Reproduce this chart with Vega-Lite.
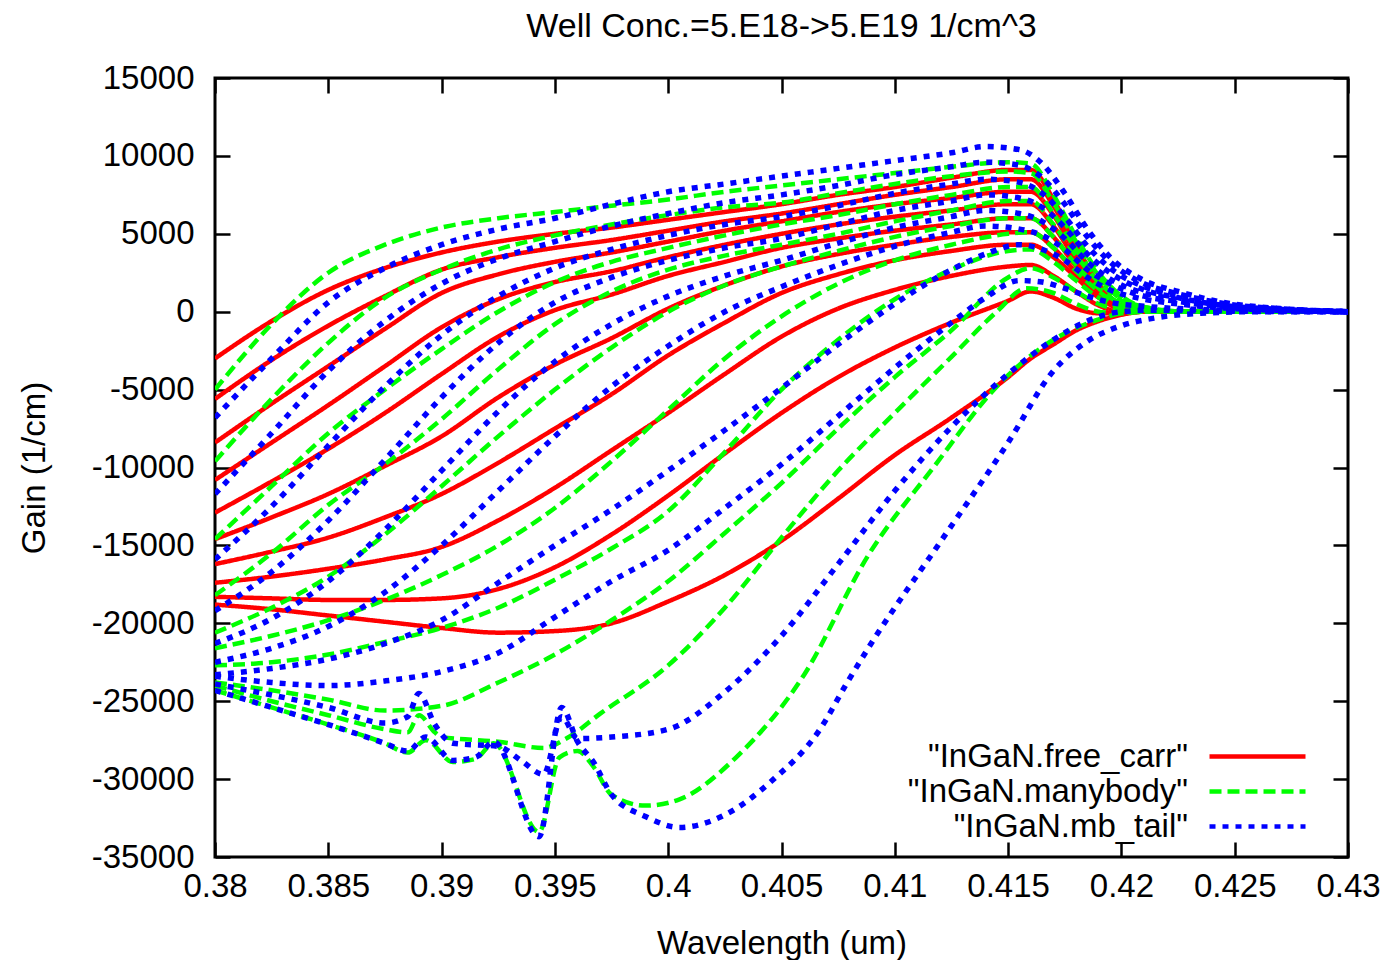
{
"$schema":"https://vega.github.io/schema/vega-lite/v6.json",
"width":1133,"height":779,"autosize":"none",
"padding":{"left":215,"top":78,"right":42,"bottom":103},
"background":"white",
"title":{"text":"Well Conc.=5.E18->5.E19 1/cm^3","fontSize":34,"font":"Liberation Sans","fontWeight":"normal","color":"#000","offset":18,"anchor":"middle"},
"config":{"view":{"stroke":"#000","strokeWidth":3},"font":"Liberation Sans",
"axis":{"grid":false,"domain":false,"tickColor":"#000","tickWidth":2.5,"labelColor":"#000","titleColor":"#000","labelFont":"Liberation Sans","titleFont":"Liberation Sans","labelFontSize":33,"titleFontSize":33,"titleFontWeight":"normal","labelOverlap":false,"labelFlush":false},
"legend":{"labelFont":"Liberation Sans","labelFontSize":33,"labelColor":"#000","padding":0}},
"datasets":{"gain":[
{"set":"R","n":1,"wl":0.38,"gain":-18800},{"set":"R","n":1,"wl":0.3825,"gain":-19100},{"set":"R","n":1,"wl":0.385,"gain":-19500},{"set":"R","n":1,"wl":0.3875,"gain":-19900},{"set":"R","n":1,"wl":0.39,"gain":-20300},{"set":"R","n":1,"wl":0.3925,"gain":-20600},{"set":"R","n":1,"wl":0.395,"gain":-20500},{"set":"R","n":1,"wl":0.3975,"gain":-20000},{"set":"R","n":1,"wl":0.4,"gain":-18600},{"set":"R","n":1,"wl":0.4025,"gain":-16900},{"set":"R","n":1,"wl":0.405,"gain":-14700},{"set":"R","n":1,"wl":0.4075,"gain":-12000},{"set":"R","n":1,"wl":0.41,"gain":-9200},{"set":"R","n":1,"wl":0.4125,"gain":-6800},{"set":"R","n":1,"wl":0.415,"gain":-4200},{"set":"R","n":1,"wl":0.416,"gain":-3000},{"set":"R","n":1,"wl":0.417,"gain":-2100},{"set":"R","n":1,"wl":0.418,"gain":-1200},{"set":"R","n":1,"wl":0.419,"gain":-600},{"set":"R","n":1,"wl":0.42,"gain":-200},{"set":"R","n":1,"wl":0.421,"gain":0},{"set":"R","n":1,"wl":0.423,"gain":0},{"set":"R","n":1,"wl":0.43,"gain":0},
{"set":"R","n":2,"wl":0.38,"gain":-18300},{"set":"R","n":2,"wl":0.3825,"gain":-18400},{"set":"R","n":2,"wl":0.385,"gain":-18500},{"set":"R","n":2,"wl":0.3875,"gain":-18500},{"set":"R","n":2,"wl":0.39,"gain":-18400},{"set":"R","n":2,"wl":0.3925,"gain":-17800},{"set":"R","n":2,"wl":0.395,"gain":-16400},{"set":"R","n":2,"wl":0.3975,"gain":-14300},{"set":"R","n":2,"wl":0.4,"gain":-11800},{"set":"R","n":2,"wl":0.4025,"gain":-9100},{"set":"R","n":2,"wl":0.405,"gain":-6500},{"set":"R","n":2,"wl":0.4075,"gain":-4200},{"set":"R","n":2,"wl":0.41,"gain":-2300},{"set":"R","n":2,"wl":0.4125,"gain":-700},{"set":"R","n":2,"wl":0.415,"gain":700},{"set":"R","n":2,"wl":0.416,"gain":1300},{"set":"R","n":2,"wl":0.417,"gain":900},{"set":"R","n":2,"wl":0.418,"gain":200},{"set":"R","n":2,"wl":0.419,"gain":-100},{"set":"R","n":2,"wl":0.42,"gain":-100},{"set":"R","n":2,"wl":0.421,"gain":0},{"set":"R","n":2,"wl":0.423,"gain":0},{"set":"R","n":2,"wl":0.43,"gain":0},
{"set":"R","n":3,"wl":0.38,"gain":-17400},{"set":"R","n":3,"wl":0.3825,"gain":-17000},{"set":"R","n":3,"wl":0.385,"gain":-16500},{"set":"R","n":3,"wl":0.3875,"gain":-15900},{"set":"R","n":3,"wl":0.39,"gain":-15100},{"set":"R","n":3,"wl":0.3925,"gain":-13400},{"set":"R","n":3,"wl":0.395,"gain":-11300},{"set":"R","n":3,"wl":0.3975,"gain":-8900},{"set":"R","n":3,"wl":0.4,"gain":-6500},{"set":"R","n":3,"wl":0.4025,"gain":-4000},{"set":"R","n":3,"wl":0.405,"gain":-1600},{"set":"R","n":3,"wl":0.4075,"gain":200},{"set":"R","n":3,"wl":0.41,"gain":1400},{"set":"R","n":3,"wl":0.4125,"gain":2300},{"set":"R","n":3,"wl":0.415,"gain":2900},{"set":"R","n":3,"wl":0.416,"gain":3000},{"set":"R","n":3,"wl":0.417,"gain":2300},{"set":"R","n":3,"wl":0.418,"gain":1300},{"set":"R","n":3,"wl":0.419,"gain":400},{"set":"R","n":3,"wl":0.42,"gain":0},{"set":"R","n":3,"wl":0.421,"gain":0},{"set":"R","n":3,"wl":0.423,"gain":0},{"set":"R","n":3,"wl":0.43,"gain":0},
{"set":"R","n":4,"wl":0.38,"gain":-16200},{"set":"R","n":4,"wl":0.3825,"gain":-15400},{"set":"R","n":4,"wl":0.385,"gain":-14500},{"set":"R","n":4,"wl":0.3875,"gain":-13200},{"set":"R","n":4,"wl":0.39,"gain":-11700},{"set":"R","n":4,"wl":0.3925,"gain":-9700},{"set":"R","n":4,"wl":0.395,"gain":-7500},{"set":"R","n":4,"wl":0.3975,"gain":-5300},{"set":"R","n":4,"wl":0.4,"gain":-2800},{"set":"R","n":4,"wl":0.4025,"gain":-700},{"set":"R","n":4,"wl":0.405,"gain":1200},{"set":"R","n":4,"wl":0.4075,"gain":2400},{"set":"R","n":4,"wl":0.41,"gain":3300},{"set":"R","n":4,"wl":0.4125,"gain":3900},{"set":"R","n":4,"wl":0.415,"gain":4300},{"set":"R","n":4,"wl":0.416,"gain":4300},{"set":"R","n":4,"wl":0.417,"gain":3500},{"set":"R","n":4,"wl":0.418,"gain":2200},{"set":"R","n":4,"wl":0.419,"gain":900},{"set":"R","n":4,"wl":0.42,"gain":150},{"set":"R","n":4,"wl":0.421,"gain":0},{"set":"R","n":4,"wl":0.423,"gain":0},{"set":"R","n":4,"wl":0.43,"gain":0},
{"set":"R","n":5,"wl":0.38,"gain":-14600},{"set":"R","n":5,"wl":0.3825,"gain":-13200},{"set":"R","n":5,"wl":0.385,"gain":-11700},{"set":"R","n":5,"wl":0.3875,"gain":-9900},{"set":"R","n":5,"wl":0.39,"gain":-8000},{"set":"R","n":5,"wl":0.3925,"gain":-5500},{"set":"R","n":5,"wl":0.395,"gain":-3400},{"set":"R","n":5,"wl":0.3975,"gain":-1700},{"set":"R","n":5,"wl":0.4,"gain":200},{"set":"R","n":5,"wl":0.4025,"gain":1700},{"set":"R","n":5,"wl":0.405,"gain":2900},{"set":"R","n":5,"wl":0.4075,"gain":3700},{"set":"R","n":5,"wl":0.41,"gain":4300},{"set":"R","n":5,"wl":0.4125,"gain":4800},{"set":"R","n":5,"wl":0.415,"gain":5100},{"set":"R","n":5,"wl":0.416,"gain":5100},{"set":"R","n":5,"wl":0.417,"gain":4100},{"set":"R","n":5,"wl":0.418,"gain":2500},{"set":"R","n":5,"wl":0.419,"gain":1000},{"set":"R","n":5,"wl":0.42,"gain":200},{"set":"R","n":5,"wl":0.421,"gain":0},{"set":"R","n":5,"wl":0.423,"gain":0},{"set":"R","n":5,"wl":0.43,"gain":0},
{"set":"R","n":6,"wl":0.38,"gain":-12900},{"set":"R","n":6,"wl":0.3825,"gain":-10900},{"set":"R","n":6,"wl":0.385,"gain":-8800},{"set":"R","n":6,"wl":0.3875,"gain":-6500},{"set":"R","n":6,"wl":0.39,"gain":-4000},{"set":"R","n":6,"wl":0.3925,"gain":-1600},{"set":"R","n":6,"wl":0.395,"gain":100},{"set":"R","n":6,"wl":0.3975,"gain":1100},{"set":"R","n":6,"wl":0.4,"gain":2300},{"set":"R","n":6,"wl":0.4025,"gain":3200},{"set":"R","n":6,"wl":0.405,"gain":4100},{"set":"R","n":6,"wl":0.4075,"gain":4700},{"set":"R","n":6,"wl":0.41,"gain":5200},{"set":"R","n":6,"wl":0.4125,"gain":5600},{"set":"R","n":6,"wl":0.415,"gain":6000},{"set":"R","n":6,"wl":0.416,"gain":6000},{"set":"R","n":6,"wl":0.417,"gain":4800},{"set":"R","n":6,"wl":0.418,"gain":2900},{"set":"R","n":6,"wl":0.419,"gain":1200},{"set":"R","n":6,"wl":0.42,"gain":250},{"set":"R","n":6,"wl":0.421,"gain":50},{"set":"R","n":6,"wl":0.423,"gain":0},{"set":"R","n":6,"wl":0.43,"gain":0},
{"set":"R","n":7,"wl":0.38,"gain":-10800},{"set":"R","n":7,"wl":0.3825,"gain":-8400},{"set":"R","n":7,"wl":0.385,"gain":-6000},{"set":"R","n":7,"wl":0.3875,"gain":-3500},{"set":"R","n":7,"wl":0.39,"gain":-1000},{"set":"R","n":7,"wl":0.3925,"gain":800},{"set":"R","n":7,"wl":0.395,"gain":1900},{"set":"R","n":7,"wl":0.3975,"gain":2600},{"set":"R","n":7,"wl":0.4,"gain":3500},{"set":"R","n":7,"wl":0.4025,"gain":4300},{"set":"R","n":7,"wl":0.405,"gain":5000},{"set":"R","n":7,"wl":0.4075,"gain":5600},{"set":"R","n":7,"wl":0.41,"gain":6100},{"set":"R","n":7,"wl":0.4125,"gain":6500},{"set":"R","n":7,"wl":0.415,"gain":6900},{"set":"R","n":7,"wl":0.416,"gain":6900},{"set":"R","n":7,"wl":0.417,"gain":5500},{"set":"R","n":7,"wl":0.418,"gain":3300},{"set":"R","n":7,"wl":0.419,"gain":1400},{"set":"R","n":7,"wl":0.42,"gain":300},{"set":"R","n":7,"wl":0.421,"gain":100},{"set":"R","n":7,"wl":0.423,"gain":0},{"set":"R","n":7,"wl":0.43,"gain":0},
{"set":"R","n":8,"wl":0.38,"gain":-8400},{"set":"R","n":8,"wl":0.3825,"gain":-5900},{"set":"R","n":8,"wl":0.385,"gain":-3500},{"set":"R","n":8,"wl":0.3875,"gain":-1100},{"set":"R","n":8,"wl":0.39,"gain":1200},{"set":"R","n":8,"wl":0.3925,"gain":2400},{"set":"R","n":8,"wl":0.395,"gain":3200},{"set":"R","n":8,"wl":0.3975,"gain":3800},{"set":"R","n":8,"wl":0.4,"gain":4500},{"set":"R","n":8,"wl":0.4025,"gain":5200},{"set":"R","n":8,"wl":0.405,"gain":5800},{"set":"R","n":8,"wl":0.4075,"gain":6400},{"set":"R","n":8,"wl":0.41,"gain":6900},{"set":"R","n":8,"wl":0.4125,"gain":7300},{"set":"R","n":8,"wl":0.415,"gain":7700},{"set":"R","n":8,"wl":0.416,"gain":7700},{"set":"R","n":8,"wl":0.417,"gain":6200},{"set":"R","n":8,"wl":0.418,"gain":3700},{"set":"R","n":8,"wl":0.419,"gain":1500},{"set":"R","n":8,"wl":0.42,"gain":300},{"set":"R","n":8,"wl":0.421,"gain":100},{"set":"R","n":8,"wl":0.423,"gain":0},{"set":"R","n":8,"wl":0.43,"gain":0},
{"set":"R","n":9,"wl":0.38,"gain":-5600},{"set":"R","n":9,"wl":0.3825,"gain":-3100},{"set":"R","n":9,"wl":0.385,"gain":-900},{"set":"R","n":9,"wl":0.3875,"gain":1000},{"set":"R","n":9,"wl":0.39,"gain":2700},{"set":"R","n":9,"wl":0.3925,"gain":3500},{"set":"R","n":9,"wl":0.395,"gain":4100},{"set":"R","n":9,"wl":0.3975,"gain":4600},{"set":"R","n":9,"wl":0.4,"gain":5200},{"set":"R","n":9,"wl":0.4025,"gain":5800},{"set":"R","n":9,"wl":0.405,"gain":6300},{"set":"R","n":9,"wl":0.4075,"gain":6900},{"set":"R","n":9,"wl":0.41,"gain":7500},{"set":"R","n":9,"wl":0.4125,"gain":8000},{"set":"R","n":9,"wl":0.415,"gain":8500},{"set":"R","n":9,"wl":0.416,"gain":8500},{"set":"R","n":9,"wl":0.417,"gain":6800},{"set":"R","n":9,"wl":0.418,"gain":4000},{"set":"R","n":9,"wl":0.419,"gain":1700},{"set":"R","n":9,"wl":0.42,"gain":400},{"set":"R","n":9,"wl":0.421,"gain":100},{"set":"R","n":9,"wl":0.423,"gain":0},{"set":"R","n":9,"wl":0.43,"gain":0},
{"set":"R","n":10,"wl":0.38,"gain":-3000},{"set":"R","n":10,"wl":0.3825,"gain":-600},{"set":"R","n":10,"wl":0.385,"gain":1400},{"set":"R","n":10,"wl":0.3875,"gain":2800},{"set":"R","n":10,"wl":0.39,"gain":3800},{"set":"R","n":10,"wl":0.3925,"gain":4500},{"set":"R","n":10,"wl":0.395,"gain":5000},{"set":"R","n":10,"wl":0.3975,"gain":5400},{"set":"R","n":10,"wl":0.4,"gain":5900},{"set":"R","n":10,"wl":0.4025,"gain":6400},{"set":"R","n":10,"wl":0.405,"gain":6900},{"set":"R","n":10,"wl":0.4075,"gain":7500},{"set":"R","n":10,"wl":0.41,"gain":8000},{"set":"R","n":10,"wl":0.4125,"gain":8600},{"set":"R","n":10,"wl":0.415,"gain":9100},{"set":"R","n":10,"wl":0.416,"gain":9100},{"set":"R","n":10,"wl":0.417,"gain":7200},{"set":"R","n":10,"wl":0.418,"gain":4300},{"set":"R","n":10,"wl":0.419,"gain":1800},{"set":"R","n":10,"wl":0.42,"gain":400},{"set":"R","n":10,"wl":0.421,"gain":100},{"set":"R","n":10,"wl":0.423,"gain":0},{"set":"R","n":10,"wl":0.43,"gain":0},
{"set":"G","n":1,"wl":0.38,"gain":-24300},{"set":"G","n":1,"wl":0.3825,"gain":-25400},{"set":"G","n":1,"wl":0.385,"gain":-26500},{"set":"G","n":1,"wl":0.3875,"gain":-27700},{"set":"G","n":1,"wl":0.3885,"gain":-28300},{"set":"G","n":1,"wl":0.3893,"gain":-27500},{"set":"G","n":1,"wl":0.3905,"gain":-28900},{"set":"G","n":1,"wl":0.3915,"gain":-28700},{"set":"G","n":1,"wl":0.3923,"gain":-27700},{"set":"G","n":1,"wl":0.3943,"gain":-33400},{"set":"G","n":1,"wl":0.3952,"gain":-28600},{"set":"G","n":1,"wl":0.396,"gain":-28200},{"set":"G","n":1,"wl":0.3967,"gain":-29200},{"set":"G","n":1,"wl":0.3975,"gain":-31000},{"set":"G","n":1,"wl":0.399,"gain":-31700},{"set":"G","n":1,"wl":0.4005,"gain":-31300},{"set":"G","n":1,"wl":0.403,"gain":-28600},{"set":"G","n":1,"wl":0.406,"gain":-23300},{"set":"G","n":1,"wl":0.4088,"gain":-15700},{"set":"G","n":1,"wl":0.4117,"gain":-10000},{"set":"G","n":1,"wl":0.4147,"gain":-4500},{"set":"G","n":1,"wl":0.417,"gain":-1800},{"set":"G","n":1,"wl":0.419,"gain":-500},{"set":"G","n":1,"wl":0.42,"gain":-100},{"set":"G","n":1,"wl":0.421,"gain":0},{"set":"G","n":1,"wl":0.43,"gain":0},
{"set":"G","n":2,"wl":0.38,"gain":-24000},{"set":"G","n":2,"wl":0.3825,"gain":-25000},{"set":"G","n":2,"wl":0.385,"gain":-25900},{"set":"G","n":2,"wl":0.3875,"gain":-26800},{"set":"G","n":2,"wl":0.3885,"gain":-27000},{"set":"G","n":2,"wl":0.389,"gain":-25900},{"set":"G","n":2,"wl":0.3897,"gain":-27000},{"set":"G","n":2,"wl":0.39,"gain":-27300},{"set":"G","n":2,"wl":0.3925,"gain":-27600},{"set":"G","n":2,"wl":0.3945,"gain":-28000},{"set":"G","n":2,"wl":0.3955,"gain":-27400},{"set":"G","n":2,"wl":0.397,"gain":-25800},{"set":"G","n":2,"wl":0.4,"gain":-22700},{"set":"G","n":2,"wl":0.4025,"gain":-19000},{"set":"G","n":2,"wl":0.405,"gain":-14500},{"set":"G","n":2,"wl":0.4075,"gain":-10200},{"set":"G","n":2,"wl":0.41,"gain":-6500},{"set":"G","n":2,"wl":0.4125,"gain":-2900},{"set":"G","n":2,"wl":0.4145,"gain":0},{"set":"G","n":2,"wl":0.4158,"gain":1500},{"set":"G","n":2,"wl":0.417,"gain":1200},{"set":"G","n":2,"wl":0.418,"gain":500},{"set":"G","n":2,"wl":0.419,"gain":0},{"set":"G","n":2,"wl":0.42,"gain":-100},{"set":"G","n":2,"wl":0.421,"gain":0},{"set":"G","n":2,"wl":0.43,"gain":0},
{"set":"G","n":3,"wl":0.38,"gain":-23800},{"set":"G","n":3,"wl":0.3825,"gain":-24300},{"set":"G","n":3,"wl":0.385,"gain":-24900},{"set":"G","n":3,"wl":0.3875,"gain":-25600},{"set":"G","n":3,"wl":0.39,"gain":-25300},{"set":"G","n":3,"wl":0.3925,"gain":-23800},{"set":"G","n":3,"wl":0.395,"gain":-22000},{"set":"G","n":3,"wl":0.3975,"gain":-19800},{"set":"G","n":3,"wl":0.4,"gain":-17300},{"set":"G","n":3,"wl":0.4025,"gain":-14200},{"set":"G","n":3,"wl":0.405,"gain":-11000},{"set":"G","n":3,"wl":0.4075,"gain":-7500},{"set":"G","n":3,"wl":0.41,"gain":-4200},{"set":"G","n":3,"wl":0.4125,"gain":-1200},{"set":"G","n":3,"wl":0.415,"gain":2200},{"set":"G","n":3,"wl":0.416,"gain":2800},{"set":"G","n":3,"wl":0.417,"gain":2200},{"set":"G","n":3,"wl":0.418,"gain":1300},{"set":"G","n":3,"wl":0.419,"gain":500},{"set":"G","n":3,"wl":0.42,"gain":100},{"set":"G","n":3,"wl":0.421,"gain":0},{"set":"G","n":3,"wl":0.423,"gain":0},{"set":"G","n":3,"wl":0.43,"gain":0},
{"set":"G","n":4,"wl":0.38,"gain":-22700},{"set":"G","n":4,"wl":0.3825,"gain":-22500},{"set":"G","n":4,"wl":0.385,"gain":-22000},{"set":"G","n":4,"wl":0.3875,"gain":-21200},{"set":"G","n":4,"wl":0.39,"gain":-20300},{"set":"G","n":4,"wl":0.3925,"gain":-19000},{"set":"G","n":4,"wl":0.395,"gain":-17200},{"set":"G","n":4,"wl":0.3975,"gain":-15200},{"set":"G","n":4,"wl":0.4,"gain":-12800},{"set":"G","n":4,"wl":0.4025,"gain":-9000},{"set":"G","n":4,"wl":0.405,"gain":-5000},{"set":"G","n":4,"wl":0.4075,"gain":-1800},{"set":"G","n":4,"wl":0.41,"gain":800},{"set":"G","n":4,"wl":0.4125,"gain":2700},{"set":"G","n":4,"wl":0.415,"gain":3900},{"set":"G","n":4,"wl":0.416,"gain":4000},{"set":"G","n":4,"wl":0.417,"gain":3200},{"set":"G","n":4,"wl":0.418,"gain":2000},{"set":"G","n":4,"wl":0.419,"gain":900},{"set":"G","n":4,"wl":0.42,"gain":300},{"set":"G","n":4,"wl":0.421,"gain":0},{"set":"G","n":4,"wl":0.423,"gain":0},{"set":"G","n":4,"wl":0.43,"gain":0},
{"set":"G","n":5,"wl":0.38,"gain":-21600},{"set":"G","n":5,"wl":0.3825,"gain":-20800},{"set":"G","n":5,"wl":0.385,"gain":-19800},{"set":"G","n":5,"wl":0.3875,"gain":-18500},{"set":"G","n":5,"wl":0.39,"gain":-16900},{"set":"G","n":5,"wl":0.3925,"gain":-15000},{"set":"G","n":5,"wl":0.395,"gain":-12600},{"set":"G","n":5,"wl":0.3975,"gain":-9600},{"set":"G","n":5,"wl":0.4,"gain":-6300},{"set":"G","n":5,"wl":0.4025,"gain":-3000},{"set":"G","n":5,"wl":0.405,"gain":-300},{"set":"G","n":5,"wl":0.4075,"gain":1800},{"set":"G","n":5,"wl":0.41,"gain":3300},{"set":"G","n":5,"wl":0.4125,"gain":4300},{"set":"G","n":5,"wl":0.415,"gain":5000},{"set":"G","n":5,"wl":0.416,"gain":5100},{"set":"G","n":5,"wl":0.417,"gain":4100},{"set":"G","n":5,"wl":0.418,"gain":2600},{"set":"G","n":5,"wl":0.419,"gain":1300},{"set":"G","n":5,"wl":0.42,"gain":400},{"set":"G","n":5,"wl":0.421,"gain":100},{"set":"G","n":5,"wl":0.423,"gain":0},{"set":"G","n":5,"wl":0.43,"gain":0},
{"set":"G","n":6,"wl":0.38,"gain":-20600},{"set":"G","n":6,"wl":0.3825,"gain":-19000},{"set":"G","n":6,"wl":0.385,"gain":-17000},{"set":"G","n":6,"wl":0.3875,"gain":-14300},{"set":"G","n":6,"wl":0.39,"gain":-11200},{"set":"G","n":6,"wl":0.3925,"gain":-8000},{"set":"G","n":6,"wl":0.395,"gain":-5000},{"set":"G","n":6,"wl":0.3975,"gain":-2300},{"set":"G","n":6,"wl":0.4,"gain":0},{"set":"G","n":6,"wl":0.4025,"gain":1700},{"set":"G","n":6,"wl":0.405,"gain":2900},{"set":"G","n":6,"wl":0.4075,"gain":3900},{"set":"G","n":6,"wl":0.41,"gain":4800},{"set":"G","n":6,"wl":0.4125,"gain":5500},{"set":"G","n":6,"wl":0.415,"gain":6000},{"set":"G","n":6,"wl":0.416,"gain":6000},{"set":"G","n":6,"wl":0.417,"gain":4800},{"set":"G","n":6,"wl":0.418,"gain":3000},{"set":"G","n":6,"wl":0.419,"gain":1500},{"set":"G","n":6,"wl":0.42,"gain":500},{"set":"G","n":6,"wl":0.421,"gain":100},{"set":"G","n":6,"wl":0.423,"gain":0},{"set":"G","n":6,"wl":0.43,"gain":0},
{"set":"G","n":7,"wl":0.38,"gain":-18200},{"set":"G","n":7,"wl":0.3825,"gain":-15500},{"set":"G","n":7,"wl":0.385,"gain":-12400},{"set":"G","n":7,"wl":0.3875,"gain":-9800},{"set":"G","n":7,"wl":0.39,"gain":-6900},{"set":"G","n":7,"wl":0.3925,"gain":-3700},{"set":"G","n":7,"wl":0.395,"gain":-800},{"set":"G","n":7,"wl":0.3975,"gain":1300},{"set":"G","n":7,"wl":0.4,"gain":2700},{"set":"G","n":7,"wl":0.4025,"gain":3600},{"set":"G","n":7,"wl":0.405,"gain":4300},{"set":"G","n":7,"wl":0.4075,"gain":5000},{"set":"G","n":7,"wl":0.41,"gain":5800},{"set":"G","n":7,"wl":0.4125,"gain":6500},{"set":"G","n":7,"wl":0.415,"gain":7100},{"set":"G","n":7,"wl":0.416,"gain":7100},{"set":"G","n":7,"wl":0.417,"gain":5600},{"set":"G","n":7,"wl":0.418,"gain":3600},{"set":"G","n":7,"wl":0.419,"gain":1900},{"set":"G","n":7,"wl":0.42,"gain":700},{"set":"G","n":7,"wl":0.421,"gain":200},{"set":"G","n":7,"wl":0.423,"gain":0},{"set":"G","n":7,"wl":0.43,"gain":0},
{"set":"G","n":8,"wl":0.38,"gain":-14600},{"set":"G","n":8,"wl":0.3825,"gain":-11200},{"set":"G","n":8,"wl":0.385,"gain":-7800},{"set":"G","n":8,"wl":0.3875,"gain":-5000},{"set":"G","n":8,"wl":0.39,"gain":-2400},{"set":"G","n":8,"wl":0.3925,"gain":0},{"set":"G","n":8,"wl":0.395,"gain":1900},{"set":"G","n":8,"wl":0.3975,"gain":3200},{"set":"G","n":8,"wl":0.4,"gain":4100},{"set":"G","n":8,"wl":0.4025,"gain":4900},{"set":"G","n":8,"wl":0.405,"gain":5600},{"set":"G","n":8,"wl":0.4075,"gain":6200},{"set":"G","n":8,"wl":0.41,"gain":6900},{"set":"G","n":8,"wl":0.4125,"gain":7500},{"set":"G","n":8,"wl":0.415,"gain":8000},{"set":"G","n":8,"wl":0.416,"gain":8000},{"set":"G","n":8,"wl":0.417,"gain":6300},{"set":"G","n":8,"wl":0.418,"gain":4000},{"set":"G","n":8,"wl":0.419,"gain":2100},{"set":"G","n":8,"wl":0.42,"gain":800},{"set":"G","n":8,"wl":0.421,"gain":200},{"set":"G","n":8,"wl":0.423,"gain":0},{"set":"G","n":8,"wl":0.43,"gain":0},
{"set":"G","n":9,"wl":0.38,"gain":-9600},{"set":"G","n":9,"wl":0.3825,"gain":-5600},{"set":"G","n":9,"wl":0.385,"gain":-2000},{"set":"G","n":9,"wl":0.3875,"gain":900},{"set":"G","n":9,"wl":0.39,"gain":2700},{"set":"G","n":9,"wl":0.3925,"gain":4000},{"set":"G","n":9,"wl":0.395,"gain":4900},{"set":"G","n":9,"wl":0.3975,"gain":5600},{"set":"G","n":9,"wl":0.4,"gain":6200},{"set":"G","n":9,"wl":0.4025,"gain":6700},{"set":"G","n":9,"wl":0.405,"gain":7000},{"set":"G","n":9,"wl":0.4075,"gain":7600},{"set":"G","n":9,"wl":0.41,"gain":8200},{"set":"G","n":9,"wl":0.4125,"gain":8700},{"set":"G","n":9,"wl":0.415,"gain":9000},{"set":"G","n":9,"wl":0.416,"gain":8900},{"set":"G","n":9,"wl":0.417,"gain":7000},{"set":"G","n":9,"wl":0.418,"gain":4500},{"set":"G","n":9,"wl":0.419,"gain":2300},{"set":"G","n":9,"wl":0.42,"gain":900},{"set":"G","n":9,"wl":0.421,"gain":300},{"set":"G","n":9,"wl":0.423,"gain":0},{"set":"G","n":9,"wl":0.43,"gain":0},
{"set":"G","n":10,"wl":0.38,"gain":-5000},{"set":"G","n":10,"wl":0.3825,"gain":-800},{"set":"G","n":10,"wl":0.385,"gain":2500},{"set":"G","n":10,"wl":0.3875,"gain":4300},{"set":"G","n":10,"wl":0.39,"gain":5400},{"set":"G","n":10,"wl":0.3925,"gain":6000},{"set":"G","n":10,"wl":0.395,"gain":6400},{"set":"G","n":10,"wl":0.3975,"gain":6800},{"set":"G","n":10,"wl":0.4,"gain":7200},{"set":"G","n":10,"wl":0.4025,"gain":7700},{"set":"G","n":10,"wl":0.405,"gain":8100},{"set":"G","n":10,"wl":0.4075,"gain":8500},{"set":"G","n":10,"wl":0.41,"gain":8900},{"set":"G","n":10,"wl":0.4125,"gain":9300},{"set":"G","n":10,"wl":0.415,"gain":9600},{"set":"G","n":10,"wl":0.416,"gain":9500},{"set":"G","n":10,"wl":0.417,"gain":7500},{"set":"G","n":10,"wl":0.418,"gain":4800},{"set":"G","n":10,"wl":0.419,"gain":2500},{"set":"G","n":10,"wl":0.42,"gain":1000},{"set":"G","n":10,"wl":0.421,"gain":300},{"set":"G","n":10,"wl":0.423,"gain":0},{"set":"G","n":10,"wl":0.43,"gain":0},
{"set":"B","n":1,"wl":0.38,"gain":-24300},{"set":"B","n":1,"wl":0.3825,"gain":-25400},{"set":"B","n":1,"wl":0.385,"gain":-26500},{"set":"B","n":1,"wl":0.3875,"gain":-27700},{"set":"B","n":1,"wl":0.3885,"gain":-28200},{"set":"B","n":1,"wl":0.3893,"gain":-27300},{"set":"B","n":1,"wl":0.3905,"gain":-28800},{"set":"B","n":1,"wl":0.3915,"gain":-28600},{"set":"B","n":1,"wl":0.3923,"gain":-27600},{"set":"B","n":1,"wl":0.3943,"gain":-33700},{"set":"B","n":1,"wl":0.3953,"gain":-25400},{"set":"B","n":1,"wl":0.396,"gain":-27600},{"set":"B","n":1,"wl":0.3967,"gain":-28900},{"set":"B","n":1,"wl":0.3975,"gain":-31000},{"set":"B","n":1,"wl":0.399,"gain":-32400},{"set":"B","n":1,"wl":0.4005,"gain":-33100},{"set":"B","n":1,"wl":0.4025,"gain":-32300},{"set":"B","n":1,"wl":0.4045,"gain":-30200},{"set":"B","n":1,"wl":0.4067,"gain":-26800},{"set":"B","n":1,"wl":0.4079,"gain":-23800},{"set":"B","n":1,"wl":0.409,"gain":-21200},{"set":"B","n":1,"wl":0.412,"gain":-14800},{"set":"B","n":1,"wl":0.415,"gain":-8400},{"set":"B","n":1,"wl":0.417,"gain":-3800},{"set":"B","n":1,"wl":0.4185,"gain":-1900},{"set":"B","n":1,"wl":0.42,"gain":-900},{"set":"B","n":1,"wl":0.4215,"gain":-400},{"set":"B","n":1,"wl":0.4235,"gain":-100},{"set":"B","n":1,"wl":0.426,"gain":0},{"set":"B","n":1,"wl":0.43,"gain":0},
{"set":"B","n":2,"wl":0.38,"gain":-23900},{"set":"B","n":2,"wl":0.3825,"gain":-24600},{"set":"B","n":2,"wl":0.385,"gain":-25400},{"set":"B","n":2,"wl":0.3875,"gain":-26400},{"set":"B","n":2,"wl":0.3885,"gain":-26000},{"set":"B","n":2,"wl":0.389,"gain":-24500},{"set":"B","n":2,"wl":0.3897,"gain":-26500},{"set":"B","n":2,"wl":0.3905,"gain":-27700},{"set":"B","n":2,"wl":0.3925,"gain":-27900},{"set":"B","n":2,"wl":0.3935,"gain":-28800},{"set":"B","n":2,"wl":0.3945,"gain":-29700},{"set":"B","n":2,"wl":0.3953,"gain":-26000},{"set":"B","n":2,"wl":0.396,"gain":-27400},{"set":"B","n":2,"wl":0.3975,"gain":-27300},{"set":"B","n":2,"wl":0.4,"gain":-26800},{"set":"B","n":2,"wl":0.4025,"gain":-24400},{"set":"B","n":2,"wl":0.405,"gain":-20800},{"set":"B","n":2,"wl":0.4075,"gain":-16200},{"set":"B","n":2,"wl":0.41,"gain":-11500},{"set":"B","n":2,"wl":0.4125,"gain":-7400},{"set":"B","n":2,"wl":0.415,"gain":-4000},{"set":"B","n":2,"wl":0.417,"gain":-1800},{"set":"B","n":2,"wl":0.4185,"gain":-600},{"set":"B","n":2,"wl":0.42,"gain":0},{"set":"B","n":2,"wl":0.4215,"gain":100},{"set":"B","n":2,"wl":0.4235,"gain":50},{"set":"B","n":2,"wl":0.43,"gain":0},
{"set":"B","n":3,"wl":0.38,"gain":-23400},{"set":"B","n":3,"wl":0.3825,"gain":-23800},{"set":"B","n":3,"wl":0.385,"gain":-24000},{"set":"B","n":3,"wl":0.3875,"gain":-23700},{"set":"B","n":3,"wl":0.39,"gain":-23100},{"set":"B","n":3,"wl":0.3925,"gain":-21900},{"set":"B","n":3,"wl":0.395,"gain":-19600},{"set":"B","n":3,"wl":0.3975,"gain":-17300},{"set":"B","n":3,"wl":0.4,"gain":-15300},{"set":"B","n":3,"wl":0.4025,"gain":-12600},{"set":"B","n":3,"wl":0.405,"gain":-9800},{"set":"B","n":3,"wl":0.4075,"gain":-6700},{"set":"B","n":3,"wl":0.41,"gain":-3600},{"set":"B","n":3,"wl":0.4125,"gain":-700},{"set":"B","n":3,"wl":0.414,"gain":900},{"set":"B","n":3,"wl":0.4155,"gain":2000},{"set":"B","n":3,"wl":0.4165,"gain":1900},{"set":"B","n":3,"wl":0.4175,"gain":1500},{"set":"B","n":3,"wl":0.4185,"gain":1000},{"set":"B","n":3,"wl":0.4195,"gain":600},{"set":"B","n":3,"wl":0.421,"gain":350},{"set":"B","n":3,"wl":0.4225,"gain":200},{"set":"B","n":3,"wl":0.4245,"gain":100},{"set":"B","n":3,"wl":0.427,"gain":30},{"set":"B","n":3,"wl":0.43,"gain":0},
{"set":"B","n":4,"wl":0.38,"gain":-23300},{"set":"B","n":4,"wl":0.3825,"gain":-22900},{"set":"B","n":4,"wl":0.385,"gain":-22300},{"set":"B","n":4,"wl":0.3875,"gain":-21300},{"set":"B","n":4,"wl":0.39,"gain":-19800},{"set":"B","n":4,"wl":0.3925,"gain":-17400},{"set":"B","n":4,"wl":0.395,"gain":-15000},{"set":"B","n":4,"wl":0.3975,"gain":-12700},{"set":"B","n":4,"wl":0.4,"gain":-10200},{"set":"B","n":4,"wl":0.4025,"gain":-7600},{"set":"B","n":4,"wl":0.405,"gain":-4900},{"set":"B","n":4,"wl":0.4075,"gain":-2100},{"set":"B","n":4,"wl":0.41,"gain":500},{"set":"B","n":4,"wl":0.4125,"gain":2700},{"set":"B","n":4,"wl":0.414,"gain":3700},{"set":"B","n":4,"wl":0.4155,"gain":4300},{"set":"B","n":4,"wl":0.4165,"gain":4000},{"set":"B","n":4,"wl":0.4175,"gain":3300},{"set":"B","n":4,"wl":0.4185,"gain":2200},{"set":"B","n":4,"wl":0.4195,"gain":1400},{"set":"B","n":4,"wl":0.421,"gain":800},{"set":"B","n":4,"wl":0.4225,"gain":500},{"set":"B","n":4,"wl":0.4245,"gain":240},{"set":"B","n":4,"wl":0.427,"gain":90},{"set":"B","n":4,"wl":0.43,"gain":0},
{"set":"B","n":5,"wl":0.38,"gain":-22500},{"set":"B","n":5,"wl":0.3825,"gain":-21600},{"set":"B","n":5,"wl":0.385,"gain":-20200},{"set":"B","n":5,"wl":0.3875,"gain":-18000},{"set":"B","n":5,"wl":0.39,"gain":-15000},{"set":"B","n":5,"wl":0.3925,"gain":-11500},{"set":"B","n":5,"wl":0.395,"gain":-8000},{"set":"B","n":5,"wl":0.3975,"gain":-4800},{"set":"B","n":5,"wl":0.4,"gain":-2200},{"set":"B","n":5,"wl":0.4025,"gain":0},{"set":"B","n":5,"wl":0.405,"gain":1600},{"set":"B","n":5,"wl":0.4075,"gain":3000},{"set":"B","n":5,"wl":0.41,"gain":4200},{"set":"B","n":5,"wl":0.4125,"gain":5100},{"set":"B","n":5,"wl":0.414,"gain":5500},{"set":"B","n":5,"wl":0.4155,"gain":5300},{"set":"B","n":5,"wl":0.4165,"gain":4900},{"set":"B","n":5,"wl":0.4175,"gain":4000},{"set":"B","n":5,"wl":0.4185,"gain":2700},{"set":"B","n":5,"wl":0.4195,"gain":1800},{"set":"B","n":5,"wl":0.421,"gain":1000},{"set":"B","n":5,"wl":0.4225,"gain":660},{"set":"B","n":5,"wl":0.4245,"gain":300},{"set":"B","n":5,"wl":0.427,"gain":110},{"set":"B","n":5,"wl":0.43,"gain":0},
{"set":"B","n":6,"wl":0.38,"gain":-21300},{"set":"B","n":6,"wl":0.3825,"gain":-19700},{"set":"B","n":6,"wl":0.385,"gain":-17300},{"set":"B","n":6,"wl":0.3875,"gain":-14000},{"set":"B","n":6,"wl":0.39,"gain":-10200},{"set":"B","n":6,"wl":0.3925,"gain":-6400},{"set":"B","n":6,"wl":0.395,"gain":-3200},{"set":"B","n":6,"wl":0.3975,"gain":-800},{"set":"B","n":6,"wl":0.4,"gain":1000},{"set":"B","n":6,"wl":0.4025,"gain":2300},{"set":"B","n":6,"wl":0.405,"gain":3300},{"set":"B","n":6,"wl":0.4075,"gain":4400},{"set":"B","n":6,"wl":0.41,"gain":5400},{"set":"B","n":6,"wl":0.4125,"gain":6100},{"set":"B","n":6,"wl":0.414,"gain":6500},{"set":"B","n":6,"wl":0.4155,"gain":6300},{"set":"B","n":6,"wl":0.4165,"gain":5800},{"set":"B","n":6,"wl":0.4175,"gain":4700},{"set":"B","n":6,"wl":0.4185,"gain":3200},{"set":"B","n":6,"wl":0.4195,"gain":2100},{"set":"B","n":6,"wl":0.421,"gain":1200},{"set":"B","n":6,"wl":0.4225,"gain":780},{"set":"B","n":6,"wl":0.4245,"gain":360},{"set":"B","n":6,"wl":0.427,"gain":130},{"set":"B","n":6,"wl":0.43,"gain":0},
{"set":"B","n":7,"wl":0.38,"gain":-19200},{"set":"B","n":7,"wl":0.3825,"gain":-16700},{"set":"B","n":7,"wl":0.385,"gain":-13400},{"set":"B","n":7,"wl":0.3875,"gain":-9500},{"set":"B","n":7,"wl":0.39,"gain":-5500},{"set":"B","n":7,"wl":0.3925,"gain":-2000},{"set":"B","n":7,"wl":0.395,"gain":600},{"set":"B","n":7,"wl":0.3975,"gain":2200},{"set":"B","n":7,"wl":0.4,"gain":3300},{"set":"B","n":7,"wl":0.4025,"gain":4100},{"set":"B","n":7,"wl":0.405,"gain":4700},{"set":"B","n":7,"wl":0.4075,"gain":5600},{"set":"B","n":7,"wl":0.41,"gain":6500},{"set":"B","n":7,"wl":0.4125,"gain":7100},{"set":"B","n":7,"wl":0.414,"gain":7500},{"set":"B","n":7,"wl":0.4155,"gain":7300},{"set":"B","n":7,"wl":0.4165,"gain":6700},{"set":"B","n":7,"wl":0.4175,"gain":5400},{"set":"B","n":7,"wl":0.4185,"gain":3700},{"set":"B","n":7,"wl":0.4195,"gain":2500},{"set":"B","n":7,"wl":0.421,"gain":1400},{"set":"B","n":7,"wl":0.4225,"gain":900},{"set":"B","n":7,"wl":0.4245,"gain":400},{"set":"B","n":7,"wl":0.427,"gain":150},{"set":"B","n":7,"wl":0.43,"gain":0},
{"set":"B","n":8,"wl":0.38,"gain":-15900},{"set":"B","n":8,"wl":0.3825,"gain":-12500},{"set":"B","n":8,"wl":0.385,"gain":-8600},{"set":"B","n":8,"wl":0.3875,"gain":-4800},{"set":"B","n":8,"wl":0.39,"gain":-1500},{"set":"B","n":8,"wl":0.3925,"gain":1000},{"set":"B","n":8,"wl":0.395,"gain":2800},{"set":"B","n":8,"wl":0.3975,"gain":4000},{"set":"B","n":8,"wl":0.4,"gain":4900},{"set":"B","n":8,"wl":0.4025,"gain":5600},{"set":"B","n":8,"wl":0.405,"gain":6100},{"set":"B","n":8,"wl":0.4075,"gain":6800},{"set":"B","n":8,"wl":0.41,"gain":7600},{"set":"B","n":8,"wl":0.4125,"gain":8200},{"set":"B","n":8,"wl":0.414,"gain":8500},{"set":"B","n":8,"wl":0.4155,"gain":8300},{"set":"B","n":8,"wl":0.4165,"gain":7600},{"set":"B","n":8,"wl":0.4175,"gain":6100},{"set":"B","n":8,"wl":0.4185,"gain":4200},{"set":"B","n":8,"wl":0.4195,"gain":2800},{"set":"B","n":8,"wl":0.421,"gain":1600},{"set":"B","n":8,"wl":0.4225,"gain":1000},{"set":"B","n":8,"wl":0.4245,"gain":470},{"set":"B","n":8,"wl":0.427,"gain":170},{"set":"B","n":8,"wl":0.43,"gain":0},
{"set":"B","n":9,"wl":0.38,"gain":-11700},{"set":"B","n":9,"wl":0.3825,"gain":-7800},{"set":"B","n":9,"wl":0.385,"gain":-3800},{"set":"B","n":9,"wl":0.3875,"gain":-600},{"set":"B","n":9,"wl":0.39,"gain":1800},{"set":"B","n":9,"wl":0.3925,"gain":3400},{"set":"B","n":9,"wl":0.395,"gain":4500},{"set":"B","n":9,"wl":0.3975,"gain":5500},{"set":"B","n":9,"wl":0.4,"gain":6300},{"set":"B","n":9,"wl":0.4025,"gain":7000},{"set":"B","n":9,"wl":0.405,"gain":7500},{"set":"B","n":9,"wl":0.4075,"gain":8100},{"set":"B","n":9,"wl":0.41,"gain":8800},{"set":"B","n":9,"wl":0.4125,"gain":9300},{"set":"B","n":9,"wl":0.414,"gain":9600},{"set":"B","n":9,"wl":0.4155,"gain":9400},{"set":"B","n":9,"wl":0.4165,"gain":8600},{"set":"B","n":9,"wl":0.4175,"gain":6900},{"set":"B","n":9,"wl":0.4185,"gain":4800},{"set":"B","n":9,"wl":0.4195,"gain":3200},{"set":"B","n":9,"wl":0.421,"gain":1800},{"set":"B","n":9,"wl":0.4225,"gain":1150},{"set":"B","n":9,"wl":0.4245,"gain":530},{"set":"B","n":9,"wl":0.427,"gain":190},{"set":"B","n":9,"wl":0.43,"gain":0},
{"set":"B","n":10,"wl":0.38,"gain":-6800},{"set":"B","n":10,"wl":0.3825,"gain":-3000},{"set":"B","n":10,"wl":0.385,"gain":600},{"set":"B","n":10,"wl":0.3875,"gain":2800},{"set":"B","n":10,"wl":0.39,"gain":4300},{"set":"B","n":10,"wl":0.3925,"gain":5300},{"set":"B","n":10,"wl":0.395,"gain":6000},{"set":"B","n":10,"wl":0.3975,"gain":6900},{"set":"B","n":10,"wl":0.4,"gain":7700},{"set":"B","n":10,"wl":0.4025,"gain":8200},{"set":"B","n":10,"wl":0.405,"gain":8700},{"set":"B","n":10,"wl":0.4075,"gain":9200},{"set":"B","n":10,"wl":0.41,"gain":9700},{"set":"B","n":10,"wl":0.4125,"gain":10200},{"set":"B","n":10,"wl":0.414,"gain":10600},{"set":"B","n":10,"wl":0.4155,"gain":10400},{"set":"B","n":10,"wl":0.4165,"gain":9500},{"set":"B","n":10,"wl":0.4175,"gain":7600},{"set":"B","n":10,"wl":0.4185,"gain":5300},{"set":"B","n":10,"wl":0.4195,"gain":3500},{"set":"B","n":10,"wl":0.421,"gain":2000},{"set":"B","n":10,"wl":0.4225,"gain":1300},{"set":"B","n":10,"wl":0.4245,"gain":600},{"set":"B","n":10,"wl":0.427,"gain":200},{"set":"B","n":10,"wl":0.43,"gain":0}
]},
"data":{"name":"gain"},
"resolve":{"axis":{"x":"independent","y":"independent"}},
"layer":[
{"layer":[
{"transform":[{"filter":"datum.set == 'R'"}],"mark":{"type":"line","interpolate":"monotone","strokeWidth":4.5,"clip":true},
"encoding":{
"x":{"field":"wl","type":"quantitative","scale":{"domain":[0.38,0.43],"nice":false,"zero":false},"axis":{"values":[0.38,0.385,0.39,0.395,0.4,0.405,0.41,0.415,0.42,0.425,0.43],"format":"~g","tickSize":-15,"labelPadding":28,"title":"Wavelength (um)","titlePadding":24}},
"y":{"field":"gain","type":"quantitative","scale":{"domain":[-35000,15000],"nice":false,"zero":false},"axis":{"values":[-35000,-30000,-25000,-20000,-15000,-10000,-5000,0,5000,10000,15000],"labelExpr":"datum.value < 0 ? '-' + format(-datum.value, 'd') : format(datum.value, 'd')","tickSize":-15,"labelPadding":36,"title":"Gain (1/cm)","titlePadding":40}},
"color":{"field":"set","type":"nominal","scale":{"domain":["R","G","B"],"range":["#ff0000","#00ff00","#0000ff"]},"legend":{"title":null,"orient":"none","legendX":1026,"legendY":662,"symbolType":"M-6,0H6","symbolSize":256,"symbolStrokeWidth":4.5,"labelAlign":"right","labelOffset":-86,"labelLimit":500,"rowPadding":1,"labelExpr":"datum.value == 'R' ? '\"InGaN.free_carr\"' : datum.value == 'G' ? '\"InGaN.manybody\"' : '\"InGaN.mb_tail\"'"}},
"strokeDash":{"field":"set","type":"nominal","scale":{"domain":["R","G","B"],"range":[[1,0],[12,6],[6,7]]},"legend":{"title":null,"orient":"none","legendX":1026,"legendY":662,"symbolType":"M-6,0H6","symbolSize":256,"symbolStrokeWidth":4.5,"labelAlign":"right","labelOffset":-86,"labelLimit":500,"rowPadding":1,"labelExpr":"datum.value == 'R' ? '\"InGaN.free_carr\"' : datum.value == 'G' ? '\"InGaN.manybody\"' : '\"InGaN.mb_tail\"'"}},
"detail":{"field":"n","type":"nominal"}}},
{"transform":[{"filter":"datum.set == 'G'"}],"mark":{"type":"line","interpolate":"monotone","strokeWidth":4.5,"clip":true},
"encoding":{
"x":{"field":"wl","type":"quantitative"},
"y":{"field":"gain","type":"quantitative"},
"color":{"field":"set","type":"nominal"},
"strokeDash":{"field":"set","type":"nominal"},
"detail":{"field":"n","type":"nominal"}}},
{"transform":[{"filter":"datum.set == 'B'"}],"mark":{"type":"line","interpolate":"monotone","strokeWidth":5.5,"clip":true},
"encoding":{
"x":{"field":"wl","type":"quantitative"},
"y":{"field":"gain","type":"quantitative"},
"color":{"field":"set","type":"nominal"},
"strokeDash":{"field":"set","type":"nominal"},
"detail":{"field":"n","type":"nominal"}}}
]},
{"mark":{"type":"point","opacity":0},
"encoding":{
"x":{"field":"wl","type":"quantitative","axis":{"orient":"top","values":[0.38,0.385,0.39,0.395,0.4,0.405,0.41,0.415,0.42,0.425,0.43],"labels":false,"tickSize":-15,"title":null}},
"y":{"field":"gain","type":"quantitative","axis":{"orient":"right","values":[-35000,-30000,-25000,-20000,-15000,-10000,-5000,0,5000,10000,15000],"labels":false,"tickSize":-15,"title":null}}}}
]
}
